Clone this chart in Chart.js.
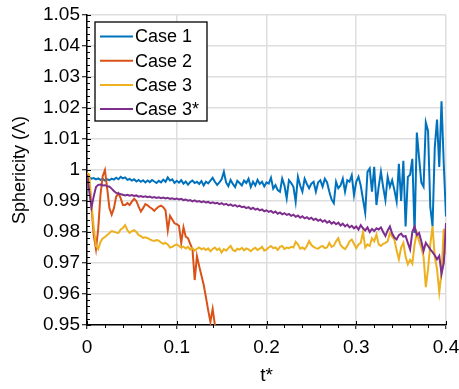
<!DOCTYPE html>
<html>
<head>
<meta charset="utf-8">
<script src="https://cdn.jsdelivr.net/npm/chart.js@4.4.1/dist/chart.umd.min.js"></script>
<style>
  html, body { margin: 0; padding: 0; background: #fff; }
  canvas { display: block; }
</style>
</head>
<body>
<canvas id="sphericityChart" width="459" height="389"></canvas>
<script>
// sample times t*, one every 0.0025
const dt = 0.0025;
const tStar = Array.from({ length: 161 }, (_, i) => +(i * dt).toFixed(4));

const seriesNames = ['Case 1', 'Case 2', 'Case 3', 'Case 3*'];

const case1 = [
  0.9980, 0.9976, 0.9972, 0.9974, 0.9970, 0.9973, 0.9968, 0.9971, 0.9966, 0.9970,
  0.9967, 0.9972, 0.9969, 0.9975, 0.9970, 0.9978, 0.9973, 0.9976, 0.9968, 0.9971,
  0.9966, 0.9970, 0.9963, 0.9968, 0.9962, 0.9967, 0.9960, 0.9966, 0.9961, 0.9968,
  0.9963, 0.9958, 0.9965, 0.9960, 0.9969, 0.9962, 0.9976, 0.9966, 0.9970, 0.9958,
  0.9965, 0.9959, 0.9967, 0.9956, 0.9963, 0.9953, 0.9961, 0.9966, 0.9958, 0.9962,
  0.9955, 0.9964, 0.9950, 0.9962, 0.9957, 0.9966, 0.9975, 0.9962, 0.9952, 0.9960,
  0.9970, 0.9994, 0.9960, 0.9948, 0.9968, 0.9955, 0.9945, 0.9965, 0.9958, 0.9950,
  0.9966, 0.9958, 0.9972, 0.9945, 0.9962, 0.9950, 0.9968, 0.9955, 0.9962, 0.9947,
  0.9960, 0.9956, 0.9975, 0.9940, 0.9951, 0.9935, 0.9930, 0.9972, 0.9950, 0.9909,
  0.9967, 0.9958, 0.9946, 0.9898, 0.9978, 0.9950, 0.9930, 0.9972, 0.9955, 0.9941,
  0.9956, 0.9962, 0.9930, 0.9960, 0.9967, 0.9946, 0.9972, 0.9960, 0.9930, 0.9905,
  0.9893, 0.9962, 0.9941, 0.9950, 0.9972, 0.9930, 0.9967, 0.9962, 0.9983, 0.9919,
  0.9962, 0.9978, 0.9950, 0.9905, 0.9862, 0.9994, 1.0005, 0.9930, 1.0010, 0.9887,
  0.9946, 0.9994, 0.9945, 0.9903, 0.9978, 0.9946, 0.9967, 0.9935, 0.9898, 1.0020,
  0.9900, 1.0030, 0.9818, 0.9978, 0.9985, 1.0036, 0.9797, 1.0121, 1.0040, 0.9960,
  0.9946, 1.0153, 1.0126, 0.9880, 0.9818, 1.0073, 1.0163, 1.0010, 1.0222, 1.0020,
  0.9850
];

// Case 2 runs off the bottom of the axes shortly after t* = 0.14
const case2 = [
  0.9990, 0.9960, 0.9880, 0.9790, 0.9745, 0.9810, 0.9920, 0.9980, 1.0000, 0.9940,
  0.9877, 0.9856, 0.9877, 0.9914, 0.9925, 0.9909, 0.9887, 0.9887, 0.9893, 0.9887,
  0.9898, 0.9907, 0.9900, 0.9882, 0.9866, 0.9877, 0.9890, 0.9886, 0.9880, 0.9875,
  0.9868, 0.9876, 0.9882, 0.9885, 0.9880, 0.9870, 0.9805, 0.9852, 0.9840, 0.9828,
  0.9825, 0.9820, 0.9765, 0.9815, 0.9785, 0.9780, 0.9762, 0.9745, 0.9645, 0.9722,
  0.9690, 0.9660, 0.9630, 0.9590, 0.9548, 0.9510, 0.9552, 0.9500, 0.9440, 0.9400
];

const case3 = [
  0.9990, 0.9985, 0.9890, 0.9815, 0.9755, 0.9745, 0.9768, 0.9779, 0.9784, 0.9790,
  0.9797, 0.9803, 0.9801, 0.9798, 0.9797, 0.9808, 0.9813, 0.9822, 0.9806, 0.9797,
  0.9803, 0.9806, 0.9800, 0.9790, 0.9787, 0.9781, 0.9783, 0.9780, 0.9776, 0.9773,
  0.9771, 0.9774, 0.9772, 0.9766, 0.9762, 0.9765, 0.9760, 0.9750, 0.9752, 0.9757,
  0.9760, 0.9755, 0.9750, 0.9753, 0.9747, 0.9752, 0.9743, 0.9748, 0.9740, 0.9746,
  0.9750, 0.9744, 0.9748, 0.9742, 0.9747, 0.9738, 0.9745, 0.9750, 0.9742, 0.9747,
  0.9734, 0.9745, 0.9740, 0.9748, 0.9755, 0.9742, 0.9738, 0.9746, 0.9743, 0.9749,
  0.9741, 0.9747, 0.9744, 0.9738, 0.9745, 0.9749, 0.9742, 0.9746, 0.9752, 0.9740,
  0.9744, 0.9750, 0.9755, 0.9748, 0.9750, 0.9742, 0.9752, 0.9755, 0.9745, 0.9750,
  0.9748, 0.9752, 0.9750, 0.9768, 0.9760, 0.9746, 0.9750, 0.9744, 0.9755, 0.9771,
  0.9758, 0.9752, 0.9748, 0.9746, 0.9752, 0.9755, 0.9748, 0.9750, 0.9765, 0.9752,
  0.9756, 0.9770, 0.9780, 0.9758, 0.9750, 0.9745, 0.9755, 0.9770, 0.9776, 0.9762,
  0.9748, 0.9760, 0.9765, 0.9800, 0.9750, 0.9760, 0.9755, 0.9780, 0.9770, 0.9792,
  0.9760, 0.9755, 0.9762, 0.9765, 0.9770, 0.9797, 0.9785, 0.9776, 0.9740, 0.9712,
  0.9750, 0.9765, 0.9720, 0.9696, 0.9710, 0.9698, 0.9760, 0.9797, 0.9770, 0.9750,
  0.9720, 0.9622, 0.9680, 0.9760, 0.9818, 0.9720, 0.9680, 0.9606, 0.9670, 0.9810,
  0.9728
];

const case3s = [
  0.9985, 0.9930, 0.9880, 0.9915, 0.9945, 0.9952, 0.9953, 0.9950, 0.9951, 0.9948,
  0.9946, 0.9940, 0.9932, 0.9926, 0.9924, 0.9922, 0.9920, 0.9918, 0.9920, 0.9917,
  0.9919, 0.9916, 0.9918, 0.9914, 0.9916, 0.9913, 0.9915, 0.9912, 0.9914, 0.9911,
  0.9913, 0.9910, 0.9912, 0.9909, 0.9911, 0.9908, 0.9910, 0.9907, 0.9909, 0.9906,
  0.9908, 0.9905, 0.9907, 0.9903, 0.9905, 0.9901, 0.9903, 0.9899, 0.9902, 0.9898,
  0.9900, 0.9896, 0.9899, 0.9895, 0.9897, 0.9893, 0.9896, 0.9892, 0.9894, 0.9890,
  0.9893, 0.9888, 0.9891, 0.9886, 0.9889, 0.9884, 0.9887, 0.9882, 0.9885, 0.9880,
  0.9882, 0.9877, 0.9880, 0.9874, 0.9878, 0.9872, 0.9875, 0.9870, 0.9873, 0.9867,
  0.9870, 0.9865, 0.9868, 0.9862, 0.9866, 0.9859, 0.9863, 0.9857, 0.9861, 0.9855,
  0.9858, 0.9852, 0.9856, 0.9849, 0.9853, 0.9846, 0.9851, 0.9844, 0.9848, 0.9842,
  0.9846, 0.9839, 0.9843, 0.9836, 0.9840, 0.9833, 0.9838, 0.9830, 0.9835, 0.9827,
  0.9832, 0.9825, 0.9830, 0.9821, 0.9827, 0.9818, 0.9824, 0.9815, 0.9820, 0.9812,
  0.9818, 0.9808, 0.9822, 0.9812, 0.9805, 0.9815, 0.9800, 0.9810, 0.9803, 0.9812,
  0.9808, 0.9815, 0.9800, 0.9787, 0.9805, 0.9818, 0.9795, 0.9782, 0.9776, 0.9790,
  0.9795, 0.9785, 0.9787, 0.9765, 0.9744, 0.9800, 0.9818, 0.9790, 0.9797, 0.9770,
  0.9739, 0.9765, 0.9755, 0.9744, 0.9735, 0.9725, 0.9712, 0.9723, 0.9665, 0.9700,
  0.9829
];

const xTicks = [0, 0.1, 0.2, 0.3, 0.4];
const xTickLabels = ['0', '0.1', '0.2', '0.3', '0.4'];
const yTicks = [0.95, 0.96, 0.97, 0.98, 0.99, 1.00, 1.01, 1.02, 1.03, 1.04, 1.05];
const yTickLabels = ['0.95', '0.96', '0.97', '0.98', '0.99', '1', '1.01', '1.02', '1.03', '1.04', '1.05'];

const colors = ['#0072BD', '#D95319', '#EDB120', '#7E2F8E'];
const FONT = 'Liberation Sans, Arial, Helvetica, sans-serif';

const toPoints = (vals) => vals.map((v, i) => ({ x: tStar[i], y: v }));

// minor tick marks plus the inner half of the major ticks
const axisTicks = {
  id: 'axisTicks',
  afterDraw(chart) {
    const { ctx, chartArea: a, scales: { x, y } } = chart;
    ctx.save();
    ctx.strokeStyle = '#000';
    ctx.lineWidth = 1;
    ctx.beginPath();
    for (let k = 0; k <= 50; k++) {
      const py = Math.round(y.getPixelForValue(0.95 + k * 0.002)) + 0.5;
      const len = k % 5 === 0 ? 4 : 3;
      ctx.moveTo(a.left, py);
      ctx.lineTo(a.left + len, py);
    }
    for (let k = 0; k <= 20; k++) {
      const px = Math.round(x.getPixelForValue(k * 0.02)) + 0.5;
      if (k % 5 === 0) {
        ctx.moveTo(px, a.bottom);
        ctx.lineTo(px, a.bottom - 4);
      } else {
        ctx.moveTo(px, a.bottom);
        ctx.lineTo(px, a.bottom + 3);
      }
    }
    ctx.stroke();
    ctx.restore();
  }
};

// boxed legend in the upper-left corner of the axes
const boxLegend = {
  id: 'boxLegend',
  afterDraw(chart) {
    const { ctx, chartArea: a } = chart;
    const bx = a.left + 8, by = a.top + 7, bw = 112, bh = 99;
    ctx.save();
    ctx.fillStyle = '#fff';
    ctx.fillRect(bx, by, bw, bh);
    ctx.strokeStyle = '#000';
    ctx.lineWidth = 1.3;
    ctx.strokeRect(bx, by, bw, bh);
    ctx.font = '18px ' + FONT;
    ctx.textBaseline = 'middle';
    ctx.fillStyle = '#000';
    chart.data.datasets.forEach((ds, i) => {
      const cy = by + 14.5 + i * 24.2;
      ctx.strokeStyle = ds.borderColor;
      ctx.lineWidth = 2;
      ctx.beginPath();
      ctx.moveTo(bx + 5, cy);
      ctx.lineTo(bx + 38, cy);
      ctx.stroke();
      ctx.fillText(ds.label, bx + 40, cy + 1);
    });
    ctx.restore();
  }
};

const lineSet = (label, vals, i) => ({
  label,
  data: toPoints(vals),
  borderColor: colors[i],
  backgroundColor: colors[i],
  borderWidth: 2,
  pointRadius: 0,
  fill: false,
  tension: 0,
  order: 4 - i
});

new Chart(document.getElementById('sphericityChart'), {
  type: 'line',
  data: {
    datasets: [
      lineSet(seriesNames[0], case1, 0),
      lineSet(seriesNames[1], case2, 1),
      lineSet(seriesNames[2], case3, 2),
      lineSet(seriesNames[3], case3s, 3)
    ]
  },
  options: {
    responsive: false,
    animation: false,
    layout: { padding: { top: 15, right: 0, left: 0, bottom: 0 } },
    plugins: { legend: { display: false }, tooltip: { enabled: false } },
    scales: {
      x: {
        type: 'linear',
        min: 0,
        max: 0.4,
        afterBuildTicks: (s) => { s.ticks = xTicks.map((v) => ({ value: v })); },
        afterFit: (s) => { s.height = 64; s.paddingRight = 13; },
        grid: { color: '#dedede', lineWidth: 1.5, tickColor: '#000', tickLength: 4, tickWidth: 1 },
        border: { color: '#000', width: 1.5 },
        ticks: {
          color: '#000',
          font: { family: FONT, size: 19 },
          padding: 7,
          maxRotation: 0,
          autoSkip: false,
          callback: (v) => xTickLabels[xTicks.indexOf(v)]
        },
        title: {
          display: true,
          text: 't*',
          color: '#000',
          font: { family: FONT, size: 19 },
          padding: { top: 0, bottom: 2 }
        }
      },
      y: {
        type: 'linear',
        min: 0.95,
        max: 1.05,
        afterBuildTicks: (s) => { s.ticks = yTicks.map((v) => ({ value: v })); },
        afterFit: (s) => { s.width = 87; },
        grid: { color: '#dedede', lineWidth: 1.5, tickColor: '#000', tickLength: 5, tickWidth: 1 },
        border: { color: '#000', width: 1.5 },
        ticks: {
          color: '#000',
          font: { family: FONT, size: 19 },
          padding: 2,
          autoSkip: false,
          callback: (v) => yTickLabels[yTicks.findIndex((t) => Math.abs(t - v) < 1e-9)]
        },
        title: {
          display: true,
          text: 'Sphericity (\u039B)',
          color: '#000',
          font: { family: FONT, size: 18 },
          padding: { top: 9, bottom: 0 }
        }
      }
    }
  },
  plugins: [axisTicks, boxLegend]
});
</script>
</body>
</html>
